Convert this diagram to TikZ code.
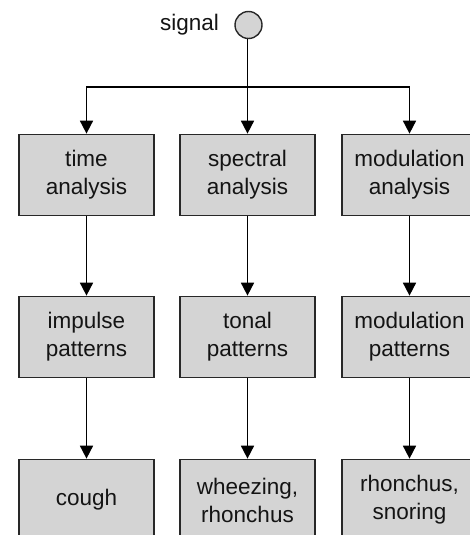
\documentclass[tikz,border=0pt]{standalone}
\usepackage{fontspec}
\setmainfont{Liberation Sans}
\usetikzlibrary{arrows.meta}
\definecolor{boxfill}{RGB}{212,212,212}
\definecolor{edge}{RGB}{40,40,40}
\definecolor{txt}{RGB}{20,20,20}
\begin{document}
\begin{tikzpicture}[x=1pt,y=-1pt,
  box/.style={draw=edge,line width=1.7pt,fill=boxfill,rectangle,
    minimum width=135pt,minimum height=81pt,inner sep=0pt,align=center,
    text=txt,font=\fontsize{22.5}{28}\selectfont},
  arr/.style={draw=black,line width=1.7pt,-{Triangle[width=13pt,length=13pt]}}]
\useasboundingbox (0,0) rectangle (470,535);
\node[circle,draw=edge,line width=1.4pt,fill=boxfill,minimum size=27pt,inner sep=0pt] (sig) at (248.5,25) {};
\node[anchor=base east,text=txt,font=\fontsize{22.5}{28}\selectfont,inner sep=0pt] (siglabel) at (219,31) {signal};
\node[box] (a1) at (86.5,175) {time\\analysis};
\node[box] (a2) at (247.5,175) {spectral\\analysis};
\node[box] (a3) at (409.5,175) {modulation\\analysis};
\node[box] (p1) at (86.5,337) {impulse\\patterns};
\node[box] (p2) at (247.5,337) {tonal\\patterns};
\node[box] (p3) at (409.5,337) {modulation\\patterns};
\node[box] (c1) at (86.5,500) {cough};
\node[box] (c2) at (247.5,500) {wheezing,\\rhonchus};
\node[box] (c3) at (409.5,500) {rhonchus,\\snoring};
\coordinate (j) at (247.5,87);
\draw[arr] (sig.south -| a2.north) -- (a2.north);
\draw[arr] (j) -| (a1.north);
\draw[arr] (j) -| (a3.north);
\draw[arr] (a1) -- (p1);
\draw[arr] (a2) -- (p2);
\draw[arr] (a3) -- (p3);
\draw[arr] (p1) -- (c1);
\draw[arr] (p2) -- (c2);
\draw[arr] (p3) -- (c3);
\end{tikzpicture}
\end{document}
